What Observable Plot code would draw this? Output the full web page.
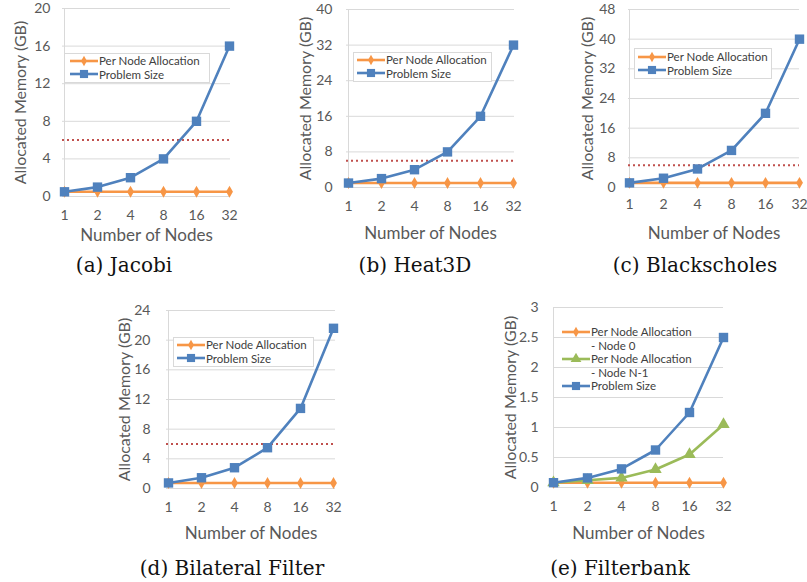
<!DOCTYPE html>
<html>
<head>
<meta charset="utf-8">
<script src="https://cdn.jsdelivr.net/npm/d3@7"></script>
<script src="https://cdn.jsdelivr.net/npm/@observablehq/plot@0.6"></script>
<style>
  html, body { margin: 0; padding: 0; background: #fff; }
  #root { position: relative; width: 807px; height: 582px; overflow: hidden; background: #fff; }
  .panel { position: absolute; }
  .legend { position: absolute; font-family: Lato, "Open Sans", sans-serif; font-size: 11.5px; color: #404040; background: #fff; }
  .legend.boxed { border: 1px solid #d9d9d9; }
  .legend .row { display: flex; align-items: center; height: 13.5px; white-space: nowrap; }
  .legend .row svg { flex: none; }
  .caption { position: absolute; font-family: "DejaVu Serif", "Liberation Serif", serif; font-size: 20px; color: #111; white-space: nowrap; transform: translate(-50%, -50%); }
</style>
</head>
<body>
<div id="root"></div>
<script>
// ---------- data ----------
const nodes = ["1", "2", "4", "8", "16", "32"];
const capacityGB = 6;

const jacobiPerNode  = [0.5, 0.5, 0.5, 0.5, 0.5, 0.5];
const jacobiProblem  = [0.5, 1, 2, 4, 8, 16];

const heat3dPerNode  = [1, 1, 1, 1, 1, 1];
const heat3dProblem  = [1, 2, 4, 8, 16, 32];

const blackPerNode   = [1.25, 1.25, 1.25, 1.25, 1.25, 1.25];
const blackProblem   = [1.25, 2.5, 5, 10, 20, 40];

const bilatPerNode   = [0.75, 0.75, 0.75, 0.75, 0.75, 0.75];
const bilatProblem   = [0.75, 1.45, 2.8, 5.5, 10.8, 21.6];

const fbankNode0     = [0.08, 0.08, 0.08, 0.08, 0.08, 0.08];
const fbankNodeN1    = [0.08, 0.12, 0.16, 0.30, 0.55, 1.05];
const fbankProblem   = [0.08, 0.16, 0.31, 0.625, 1.25, 2.5];

const yTicksA = [0, 4, 8, 12, 16, 20];
const yTicksB = [0, 8, 16, 24, 32, 40];
const yTicksC = [0, 8, 16, 24, 32, 40, 48];
const yTicksD = [0, 4, 8, 12, 16, 20, 24];
const yTicksE = [0, 0.5, 1, 1.5, 2, 2.5, 3];

const captions = ["(a) Jacobi", "(b) Heat3D", "(c) Blackscholes", "(d) Bilateral Filter", "(e) Filterbank"];

// ---------- styles ----------
const ORANGE = "#F79646", BLUE = "#4F81BD", GREEN = "#9BBB59", RED = "#C0504D";
const GRID = "#d9d9d9", TEXT = "#595959";

const seriesStyle = {
  perNode: {color: ORANGE, symbol: "diamond", r: 3.6},
  problem: {color: BLUE, symbol: "square", r: 5.3},
  nodeN1:  {color: GREEN, symbol: "triangle", r: 4.6}
};

function table(name, values) {
  return values.map((v, i) => ({node: nodes[i], value: v, series: name}));
}

const root = document.getElementById("root");

const ML = 62, MT = 12, MR = 8, MB = 58;
const blank = () => "";

function panel(cfg) {
  const w = cfg.x1 - cfg.x0, h = cfg.y1 - cfg.y0;
  const top = cfg.ticks[cfg.ticks.length - 1];
  const marks = [
    Plot.gridY(cfg.ticks, {stroke: GRID, strokeOpacity: 1, strokeWidth: 1}),
    Plot.ruleX([nodes[0]], {y1: 0, y2: top, stroke: GRID, strokeWidth: 1}),
    Plot.axisY({ticks: cfg.ticks, tickSize: 0, tickPadding: cfg.ytp, fontSize: 14, fill: TEXT,
      tickFormat: d => String(d), label: null}),
    Plot.axisX({tickSize: 0, tickPadding: cfg.xtp, fontSize: 14, fill: TEXT, label: null}),
    Plot.axisY({ticks: [0], tickSize: 0, fontSize: 16, fill: TEXT, tickFormat: blank,
      label: "Allocated Memory (GB)", labelAnchor: "center", labelArrow: "none", labelOffset: cfg.ylo}),
    Plot.axisX({ticks: [nodes[0]], tickSize: 0, fontSize: 17, fill: TEXT, tickFormat: blank,
      label: "Number of Nodes", labelAnchor: "center", labelArrow: "none", labelOffset: cfg.xlo})
  ];
  if (cfg.capacity) {
    marks.push(Plot.ruleY([capacityGB], {stroke: RED, strokeWidth: 2, strokeDasharray: "2,3"}));
  }
  for (const s of cfg.series) {
    const st = seriesStyle[s.kind];
    marks.push(Plot.line(table(s.name, s.values), {x: "node", y: "value", stroke: st.color, strokeWidth: 2.6}));
  }
  for (const s of cfg.series) {
    const st = seriesStyle[s.kind];
    marks.push(Plot.dot(table(s.name, s.values), {x: "node", y: "value", fill: st.color, stroke: "none", symbol: st.symbol, r: st.r}));
  }
  const chart = Plot.plot({
    width: ML + w + MR,
    height: MT + h + MB,
    marginLeft: ML, marginRight: MR, marginTop: MT, marginBottom: MB,
    style: {fontFamily: "Lato, 'Open Sans', sans-serif", fontSize: "14px", color: TEXT, background: "transparent", overflow: "visible"},
    x: {type: "point", domain: nodes, padding: 0},
    y: {domain: [0, top]},
    marks
  });
  const div = document.createElement("div");
  div.className = "panel";
  div.style.left = (cfg.x0 - ML) + "px";
  div.style.top = (cfg.y0 - MT) + "px";
  div.appendChild(chart);
  root.appendChild(div);

  // legend
  const lg = document.createElement("div");
  lg.className = "legend" + (cfg.legend.boxed ? " boxed" : "");
  lg.style.left = cfg.legend.x + "px";
  lg.style.top = cfg.legend.y + "px";
  lg.style.width = cfg.legend.w + "px";
  lg.style.padding = cfg.legend.pad;
  if (!cfg.legend.boxed) lg.style.background = "transparent";
  for (const s of cfg.series) {
    const st = seriesStyle[s.kind];
    s.label.split("\n").forEach((t, i) => {
      const row = document.createElement("div");
      row.className = "row";
      const sw = d3.create("svg").attr("width", 30).attr("height", 12);
      if (i === 0) {
        sw.append("line").attr("x1", 1).attr("x2", 29).attr("y1", 6).attr("y2", 6)
          .attr("stroke", st.color).attr("stroke-width", 2.6);
        const sym = {diamond: d3.symbolDiamond, square: d3.symbolSquare, triangle: d3.symbolTriangle}[st.symbol];
        sw.append("path").attr("transform", "translate(15,6)")
          .attr("d", d3.symbol(sym, st.r * st.r * Math.PI * 0.75)())
          .attr("fill", st.color);
      }
      row.appendChild(sw.node());
      const span = document.createElement("span");
      span.textContent = t;
      row.appendChild(span);
      lg.appendChild(row);
    });
  }
  root.appendChild(lg);

  const cap = document.createElement("div");
  cap.className = "caption";
  cap.textContent = cfg.caption;
  cap.style.left = cfg.cap[0] + "px";
  cap.style.top = cfg.cap[1] + "px";
  root.appendChild(cap);
}

const stdSeries = (per, prob) => [
  {kind: "perNode", name: "Per Node Allocation", label: "Per Node Allocation", values: per},
  {kind: "problem", name: "Problem Size", label: "Problem Size", values: prob}
];

panel({x0: 62, x1: 230, y0: 8, y1: 196, ticks: yTicksA, ytp: 12, ylo: 48, xtp: 14, xlo: 44, capacity: true,
  series: stdSeries(jacobiPerNode, jacobiProblem),
  legend: {x: 64, y: 53, w: 140, boxed: true, pad: "0px 0 1px 4px"},
  caption: captions[0], cap: [124, 265]});

panel({x0: 346, x1: 514, y0: 9, y1: 187, ticks: yTicksB, ytp: 14, ylo: 47, xtp: 14, xlo: 51, capacity: true,
  series: stdSeries(heat3dPerNode, heat3dProblem),
  legend: {x: 353, y: 52, w: 135, boxed: true, pad: "0px 0 1px 2px"},
  caption: captions[1], cap: [415, 265]});

panel({x0: 628, x1: 799, y0: 9, y1: 187, ticks: yTicksC, ytp: 13, ylo: 47, xtp: 12, xlo: 51, capacity: true,
  series: stdSeries(blackPerNode, blackProblem),
  legend: {x: 634, y: 48, w: 134, boxed: true, pad: "1px 0 1px 2px"},
  caption: captions[2], cap: [695, 265]});

panel({x0: 166, x1: 335, y0: 310, y1: 488, ticks: yTicksD, ytp: 16, ylo: 48, xtp: 14, xlo: 50, capacity: true,
  series: stdSeries(bilatPerNode, bilatProblem),
  legend: {x: 173, y: 337, w: 137, boxed: true, pad: "0px 0 1px 2px"},
  caption: captions[3], cap: [232, 568]});

panel({x0: 553, x1: 723, y0: 307, y1: 487, ticks: yTicksE, ytp: 15, ylo: 49, xtp: 14, xlo: 51, capacity: false,
  series: [
    {kind: "perNode", name: "Per Node Allocation - Node 0", label: "Per Node Allocation\n- Node 0", values: fbankNode0},
    {kind: "nodeN1", name: "Per Node Allocation - Node N-1", label: "Per Node Allocation\n- Node N-1", values: fbankNodeN1},
    {kind: "problem", name: "Problem Size", label: "Problem Size", values: fbankProblem}
  ],
  legend: {x: 561, y: 325, w: 140, boxed: false, pad: "0"},
  caption: captions[4], cap: [620, 568]});
</script>
</body>
</html>
